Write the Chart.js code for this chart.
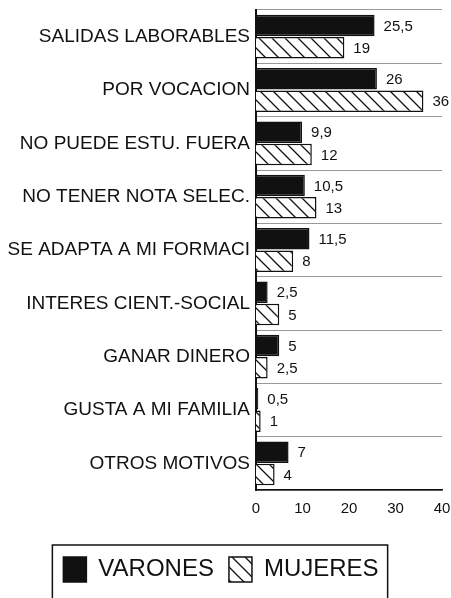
<!DOCTYPE html>
<html>
<head>
<meta charset="utf-8">
<script src="https://cdn.jsdelivr.net/npm/chart.js@4/dist/chart.umd.min.js"></script>
<style>
  html, body { margin: 0; padding: 0; background: #fff; }
  #wrap { width: 451px; height: 598px; }
</style>
</head>
<body>
<div id="wrap"><canvas id="myChart"></canvas></div>
<script>
const CATEGORIES = [
    "SALIDAS LABORABLES",
    "POR VOCACION",
    "NO PUEDE ESTU. FUERA",
    "NO TENER NOTA SELEC.",
    "SE ADAPTA A MI FORMACI",
    "INTERES CIENT.-SOCIAL",
    "GANAR DINERO",
    "GUSTA A MI FAMILIA",
    "OTROS MOTIVOS"
];
const VARONES = [25.5, 26, 9.9, 10.5, 11.5, 2.5, 5, 0.5, 7];
const MUJERES = [19, 36, 12, 13, 8, 5, 2.5, 1, 4];
const X_TICKS = [0, 10, 20, 30, 40];

const FONT = "'Liberation Sans', Arial, Helvetica, sans-serif";
const INK = '#111';

// diagonal "\" hatch for the MUJERES bars
function hatch() {
    const s = 13;
    const c = document.createElement('canvas');
    c.width = s; c.height = s;
    const g = c.getContext('2d');
    g.fillStyle = '#fff';
    g.fillRect(0, 0, s, s);
    g.strokeStyle = INK;
    g.lineWidth = 1.3;
    g.beginPath();
    g.moveTo(-1, -1); g.lineTo(s + 1, s + 1);
    g.moveTo(s - 1, -1); g.lineTo(s + 1, 1);
    g.moveTo(-1, s - 1); g.lineTo(1, s + 1);
    g.stroke();
    return g.createPattern(c, 'repeat');
}

// value labels at the bar ends, decimal comma
const valueLabels = {
    id: 'valueLabels',
    afterDatasetsDraw(chart) {
        const ctx = chart.ctx;
        ctx.save();
        ctx.font = '15px ' + FONT;
        ctx.fillStyle = INK;
        ctx.textAlign = 'left';
        ctx.textBaseline = 'middle';
        chart.data.datasets.forEach((ds, i) => {
            chart.getDatasetMeta(i).data.forEach((bar, j) => {
                ctx.fillText(String(ds.data[j]).replace('.', ','), bar.x + 9, bar.y + 1);
            });
        });
        ctx.restore();
    }
};

// frame round the legend, running off the bottom edge
const legendFrame = {
    id: 'legendFrame',
    afterDraw(chart) {
        const boxes = chart.legend.legendHitBoxes;
        if (!boxes || !boxes.length) return;
        const first = boxes[0], last = boxes[boxes.length - 1];
        const ctx = chart.ctx;
        ctx.save();
        ctx.strokeStyle = INK;
        ctx.lineWidth = 1.5;
        ctx.strokeRect(first.left - 11, first.top - 12, last.left + last.width - first.left + 20, 80);
        ctx.restore();
    }
};

const ctx = document.querySelector('#myChart');

new Chart(ctx, {
    type: 'bar',
    data: {
        labels: CATEGORIES,
        datasets: [{
            label: 'VARONES',
            data: VARONES,
            backgroundColor: INK,
            borderColor: INK,
            borderWidth: 1.5
        }, {
            label: 'MUJERES',
            data: MUJERES,
            backgroundColor: hatch(),
            borderColor: INK,
            borderWidth: 1.5
        }]
    },
    options: {
        indexAxis: 'y',
        responsive: true,
        maintainAspectRatio: false,
        animation: false,
        categoryPercentage: 0.84,
        barPercentage: 0.96,
        layout: { padding: { top: 10, right: 9, left: 0, bottom: 6 } },
        scales: {
            x: {
                min: 0,
                max: 40,
                afterBuildTicks(scale) {
                    scale.ticks = X_TICKS.map(v => ({ value: v }));
                },
                afterFit(scale) {
                    scale.height = 52;
                    scale.paddingLeft = 0;
                    scale.paddingRight = 0;
                },
                grid: { display: false, drawTicks: false },
                border: { display: true, color: INK, width: 1.5 },
                ticks: { color: INK, padding: 10, font: { family: FONT, size: 15 } }
            },
            y: {
                afterFit(scale) {
                    scale.width = 256;
                    scale.paddingTop = 0;
                    scale.paddingBottom = 0;
                },
                grid: { color: '#999', lineWidth: 1, drawTicks: false, offset: true },
                border: { display: true, color: INK, width: 2 },
                ticks: { color: INK, padding: 6, font: { family: FONT, size: 19 } }
            }
        },
        plugins: {
            legend: {
                position: 'bottom',
                labels: {
                    color: INK,
                    boxWidth: 23,
                    boxHeight: 25,
                    padding: 15,
                    font: { family: FONT, size: 24 }
                }
            },
            tooltip: { enabled: false }
        }
    },
    plugins: [valueLabels, legendFrame]
});
</script>
</body>
</html>
